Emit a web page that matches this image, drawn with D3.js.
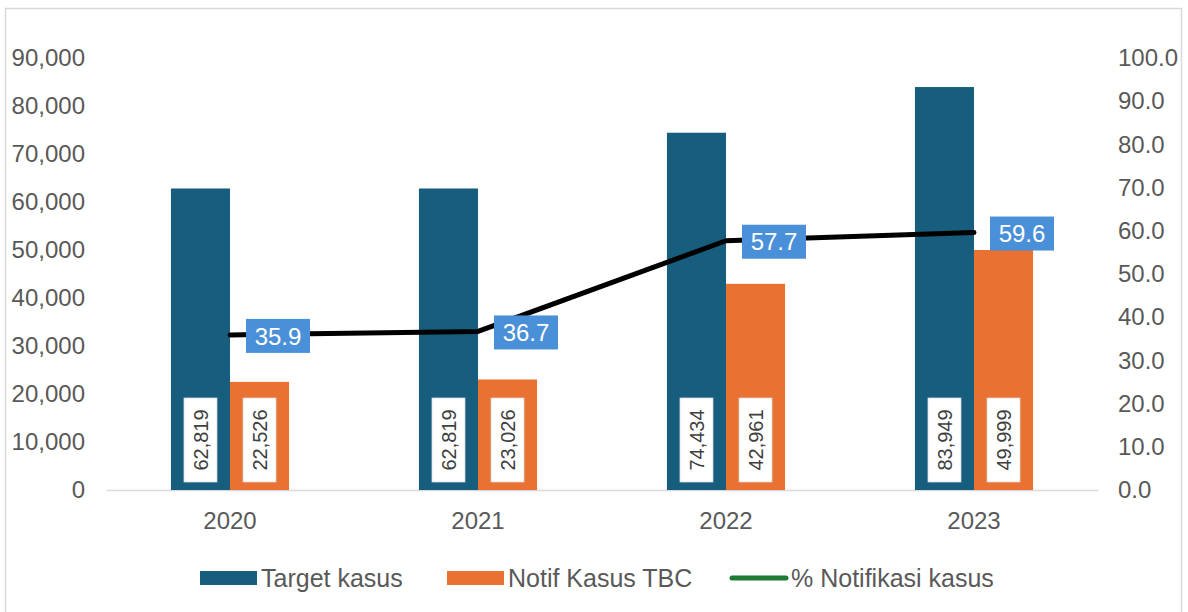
<!DOCTYPE html>
<html>
<head>
<meta charset="utf-8">
<script src="https://cdn.jsdelivr.net/npm/d3@7"></script>
<style>
  body { margin: 0; background: #fff; }
  text { font-family: "Liberation Sans", Arial, sans-serif; }
</style>
</head>
<body>
<div class="box"></div>
<script>
// data
const years = ['2020', '2021', '2022', '2023']
const target = [62819, 62819, 74434, 83949]
const notif = [22526, 23026, 42961, 49999]
const persen = [35.9, 36.7, 57.7, 59.6]
const leftTicks = [0, 10000, 20000, 30000, 40000, 50000, 60000, 70000, 80000, 90000]
const rightTicks = [0, 10, 20, 30, 40, 50, 60, 70, 80, 90, 100]
const seriesNames = ['Target kasus', 'Notif Kasus TBC', '% Notifikasi kasus']

const W = 1188, H = 612
const colTarget = '#175e7e'
const colNotif = '#e97132'
const colLabel = '#4a90d9'
const colText = '#595959'

const svg = d3.select('.box')
  .append('svg')
  .attr('width', W)
  .attr('height', H)
  .style('background-color', '#fff')

// cadre du graphique
svg.append('rect')
  .attr('x', 5.5).attr('y', 8.5)
  .attr('width', 1176).attr('height', 620)
  .attr('fill', 'none')
  .attr('stroke', '#d9d9d9')
  .attr('stroke-width', 1.5)

const plot = {left: 106, right: 1098, top: 58, bottom: 490}

const x = d3.scaleBand()
  .domain(years)
  .range([plot.left, plot.right])
  .paddingInner(0).paddingOuter(0)

const x1 = d3.scaleBand()
  .domain(['target', 'notif'])
  .range([0, x.bandwidth()])
  .paddingInner(0).paddingOuter(1.1)

const y = d3.scaleLinear().domain([0, 90000]).range([plot.bottom, plot.top])
const y2 = d3.scaleLinear().domain([0, 100]).range([plot.bottom, plot.top])

// axes (labels only)
const axeY = d3.axisLeft(y).tickValues(leftTicks).tickSize(0).tickPadding(0)
  .tickFormat(d3.format(','))
const gY = svg.append('g').attr('transform', 'translate(85,0)').call(axeY)
gY.select('.domain').remove()
gY.selectAll('text').attr('fill', colText).style('font-size', '24px')

const axeY2 = d3.axisRight(y2).tickValues(rightTicks).tickSize(0).tickPadding(0)
  .tickFormat(d3.format('.1f'))
const gY2 = svg.append('g').attr('transform', 'translate(1118,0)').call(axeY2)
gY2.select('.domain').remove()
gY2.selectAll('text').attr('fill', colText).style('font-size', '24px')

const axeX = d3.axisBottom(x).tickSize(0).tickPadding(22)
const gX = svg.append('g').attr('transform', `translate(0,${plot.bottom})`).call(axeX)
gX.select('.domain').attr('stroke', '#d9d9d9').attr('stroke-width', 1.5)
gX.selectAll('text').attr('fill', colText).style('font-size', '24px')

// barres
const rows = years.map((yr, i) => ({yr, target: target[i], notif: notif[i], pct: persen[i]}))
const bars = []
rows.forEach(r => {
  bars.push({yr: r.yr, key: 'target', v: r.target, color: colTarget})
  bars.push({yr: r.yr, key: 'notif', v: r.notif, color: colNotif})
})

svg.append('g').selectAll('rect')
  .data(bars)
  .enter()
  .append('rect')
  .attr('x', d => x(d.yr) + x1(d.key))
  .attr('y', d => y(d.v))
  .attr('width', x1.bandwidth())
  .attr('height', d => y(0) - y(d.v))
  .attr('fill', d => d.color)

// etiquettes des barres (boite blanche, texte vertical)
const lblW = 33, lblH = 84
const lbl = svg.append('g').selectAll('g')
  .data(bars)
  .enter()
  .append('g')
  .attr('transform', d => `translate(${x(d.yr) + x1(d.key) + x1.bandwidth() / 2},${y(0) - 8 - lblH / 2})`)
lbl.append('rect')
  .attr('x', -lblW / 2).attr('y', -lblH / 2)
  .attr('width', lblW).attr('height', lblH)
  .attr('fill', '#fff')
  .attr('stroke', '#d9d9d9')
  .attr('stroke-width', 0.75)
lbl.append('text')
  .attr('transform', 'rotate(-90)')
  .attr('text-anchor', 'middle')
  .attr('dy', '0.36em')
  .attr('fill', '#404040')
  .style('font-size', '20px')
  .text(d => d3.format(',')(d.v))

// ligne %
const cx = d => x(d.yr) + x.bandwidth() / 2
const line = d3.line().x(cx).y(d => y2(d.pct))
svg.append('path')
  .datum(rows)
  .attr('d', line)
  .attr('fill', 'none')
  .attr('stroke', '#000')
  .attr('stroke-width', 5)
  .attr('stroke-linecap', 'round')
  .attr('stroke-linejoin', 'round')

const pl = svg.append('g').selectAll('g')
  .data(rows)
  .enter()
  .append('g')
  .attr('transform', d => `translate(${cx(d) + 16},${y2(d.pct) + 1})`)
pl.append('rect')
  .attr('x', 0).attr('y', -17)
  .attr('width', 64).attr('height', 34)
  .attr('fill', colLabel)
pl.append('text')
  .attr('x', 32)
  .attr('text-anchor', 'middle')
  .attr('dy', '0.36em')
  .attr('fill', '#fff')
  .style('font-size', '24px')
  .text(d => d3.format('.1f')(d.pct))

// legende
const leg = svg.append('g').attr('transform', 'translate(0,578)')
const legItems = [
  {name: seriesNames[0], x: 200, type: 'rect', color: colTarget},
  {name: seriesNames[1], x: 447, type: 'rect', color: colNotif},
  {name: seriesNames[2], x: 730, type: 'line', color: '#1e7b34'}
]
legItems.forEach(it => {
  if (it.type === 'rect') {
    leg.append('rect').attr('x', it.x).attr('y', -7).attr('width', 57).attr('height', 14).attr('fill', it.color)
  } else {
    leg.append('line').attr('x1', it.x + 2).attr('x2', it.x + 56).attr('y1', 0).attr('y2', 0)
      .attr('stroke', it.color).attr('stroke-width', 5).attr('stroke-linecap', 'round')
  }
  leg.append('text')
    .attr('x', it.x + 61)
    .attr('dy', '0.36em')
    .attr('fill', colText)
    .style('font-size', '25px')
    .text(it.name)
})
</script>
</body>
</html>
